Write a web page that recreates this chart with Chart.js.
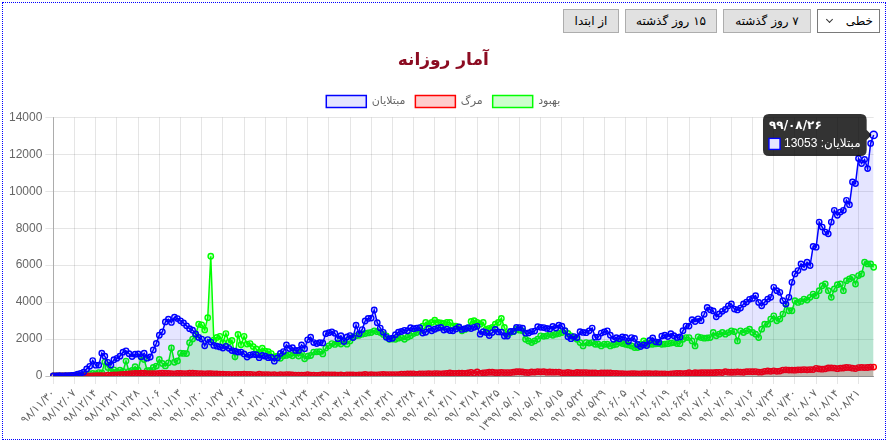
<!DOCTYPE html>
<html dir="rtl" lang="fa">
<head>
<meta charset="utf-8">
<script src="https://cdn.jsdelivr.net/npm/chart.js@4.4.1/dist/chart.umd.min.js"></script>
<style>
html,body{margin:0;padding:0;background:#fff;width:890px;height:444px;overflow:hidden;}
#wrap{position:absolute;left:2px;top:2px;width:882px;height:436px;border:1px dotted #0000ff;}
.btn,.sel{position:absolute;top:9px;height:24px;box-sizing:border-box;font-family:"DejaVu Sans",sans-serif;font-size:12px;color:#000;line-height:22px;text-align:center;white-space:nowrap;}
.btn{background:#e1e1e1;border:1px solid #adadad;}
.sel{background:#fff;border:1px solid #7a7a7a;text-align:right;padding-right:6px;}
.chev{position:absolute;left:9px;top:7px;width:4px;height:4px;border-right:1px solid #333;border-bottom:1px solid #333;transform:rotate(45deg);}
#c{position:absolute;left:3px;top:40px;}
</style>
</head>
<body>
<div id="wrap"></div>
<div class="sel" style="left:817px;width:63px">خطی<span class="chev"></span></div>
<div class="btn" style="left:723px;width:88px">۷ روز گذشته</div>
<div class="btn" style="left:625px;width:92px">۱۵ روز گذشته</div>
<div class="btn" style="left:563px;width:56px">از ابتدا</div>
<canvas id="c" width="883" height="400"></canvas>
<script>
// ---- data (daily values, first day 98/11/30, last day 99/08/26) ----
const startDate = [98, 11, 30];
const dayCount = 272;
const labelOverrides = {"99/05/01": "1399/05/01"};

const infected = [
2,3,13,10,15,18,34,44,106,143,
205,385,523,835,586,591,1234,1076,743,595,
881,958,1075,1289,1365,1209,1053,1178,1192,1046,
1237,966,1028,1411,1762,2206,2389,2926,3076,2901,
3186,3110,2987,2875,2715,2560,2483,2274,2089,1997,
1634,1972,1837,1657,1617,1574,1512,1606,1499,1374,
1343,1294,1297,1194,1030,1134,1168,1153,991,1112,
1073,993,1006,802,976,1223,1323,1680,1485,1529,
1383,1383,1683,1481,1958,2102,1808,1757,1806,1791,
2294,2346,2392,2311,2023,2180,1869,2111,2191,2080,
2750,2282,2516,2979,3117,3134,3574,2886,2596,2364,
2095,2011,2043,2238,2369,2410,2472,2449,2612,2563,
2596,2615,2322,2368,2573,2445,2531,2595,2628,2489,
2536,2457,2449,2549,2652,2523,2560,2613,2566,2637,
2691,2262,2397,2349,2186,2349,2521,2388,2379,2166,
2166,2414,2414,2625,2621,2586,2316,2333,2407,2434,
2667,2636,2621,2574,2548,2685,2598,2751,2697,2450,
2125,2020,2133,2079,2397,2359,2345,2444,2596,2100,
2105,2323,2385,2444,2206,1983,2074,2020,2115,2090,
1881,2080,2030,1712,1594,1682,1652,1922,2063,1851,
1831,2163,2205,2137,2292,2183,2089,2116,2451,2705,
2705,3049,2950,3097,2996,3341,3712,3582,3521,3204,
3362,3500,3600,3800,3900,3625,3575,3680,3900,4000,
4150,4200,4348,3985,3804,4000,4167,4257,4800,4620,
4530,4076,3895,4257,5072,5525,5706,6069,5888,6159,
5978,7011,6975,8333,8061,7790,7699,8333,8967,8696,
8877,8967,9511,9275,10507,10417,11775,11504,11721,11232,
12591,13053];

const deaths = [
2,0,2,1,3,4,4,3,7,8,
9,11,12,11,15,15,17,21,49,43,
54,63,75,85,97,113,129,135,147,149,
149,123,129,127,122,143,157,144,139,123,
117,141,138,124,134,158,151,136,133,121,
117,122,125,117,111,98,94,92,89,73,
87,91,88,94,90,93,76,60,96,71,
80,71,63,74,47,74,63,78,68,55,
48,51,45,48,71,50,48,35,51,69,
62,58,66,56,51,58,34,62,57,63,
50,63,57,81,64,70,59,63,75,81,
70,78,71,75,71,107,107,113,115,120,
87,115,119,119,121,119,133,134,109,125,
144,162,147,141,148,154,147,163,200,153,
221,142,174,188,203,203,179,179,195,183,
188,188,209,229,229,221,195,188,216,212,
235,226,235,206,216,208,212,215,174,174,
189,167,156,189,182,185,187,169,163,164,
147,168,165,164,162,137,142,126,124,113,
111,121,123,111,117,123,130,121,113,128,
116,111,117,99,113,125,144,137,121,147,
175,144,175,169,175,184,178,177,175,190,
199,187,235,207,203,209,222,211,203,235,
239,235,239,210,215,251,272,254,279,253,
269,322,337,322,322,317,335,335,346,337,
346,346,415,384,369,386,434,440,431,397,
426,434,459,457,423,400,457,462,457,459,
486,482];

const recovered = [
0,0,0,0,0,0,0,0,49,24,
50,52,116,144,117,187,174,756,465,260,
337,228,317,253,810,251,300,500,321,1035,
890,296,300,463,537,900,676,546,712,1520,
745,817,1238,1224,1213,1801,2000,2225,2803,2773,
2497,3156,6482,1947,2089,2146,1804,2296,1835,1923,
1036,2250,1692,2148,1730,1756,1594,1464,1276,1506,
1352,1312,1215,1032,1072,957,1096,1112,1157,1093,
1227,1079,1279,935,1071,1111,1297,1311,1317,1197,
1512,1635,1756,1712,1796,1729,1912,1724,1900,2100,
2174,2200,2264,2300,2330,2355,2445,2400,2355,2250,
2174,1990,2000,1990,2050,2083,1990,2100,2174,2300,
2355,2445,2700,2900,2808,2900,3025,2900,2870,2844,
2900,2900,2717,2700,2627,2445,2520,2600,2950,2990,
2900,2808,2900,2536,2580,2627,2808,2900,3116,2627,
2264,2355,2400,2536,2480,2445,1990,1900,1811,1900,
1990,2174,2150,2174,2264,2200,2264,2300,2355,2445,
2300,2174,2080,1990,1811,1630,1811,1780,1811,1720,
1720,1630,1720,1720,1630,1680,1720,1811,1760,1720,
1680,1630,1540,1540,1720,1900,1800,1720,1720,1740,
1750,1720,1730,1750,1780,1811,1760,1750,1990,2083,
2083,1900,1630,2120,2083,2050,2060,2083,2355,2174,
2264,2355,2264,2350,2445,2400,1900,2445,2355,2445,
2536,2355,2264,2083,2536,2808,2808,3080,3260,2990,
3080,3350,3895,3532,3532,4076,3985,4040,4167,4110,
4257,4438,4350,4620,4891,4982,4620,4257,4710,4945,
4982,4620,5163,5254,5344,4982,5435,5525,6159,6069,
6069,5888];

const yTicks = [0, 2000, 4000, 6000, 8000, 10000, 12000, 14000];
const seriesNames = ['مبتلایان', 'مرگ', 'بهبود'];
const chartTitle = 'آمار روزانه';
const activeIndex = 271;

// ---- helpers ----
const faDigits = '۰۱۲۳۴۵۶۷۸۹';
function toFa(s){ return String(s).replace(/[0-9]/g, d => faDigits[+d]); }
function monthLen(y, m){ if (m <= 6) return 31; if (m <= 11) return 30; return y === 98 ? 29 : 30; }
function pad(n){ return (n < 10 ? '0' : '') + n; }
function buildLabels(){
  let [y, m, d] = startDate;
  const out = [];
  for (let i = 0; i < dayCount; i++) {
    let s = pad(y) + '/' + pad(m) + '/' + pad(d);
    if (labelOverrides[s]) s = labelOverrides[s];
    out.push(toFa(s));
    d++;
    if (d > monthLen(y, m)) { d = 1; m++; if (m > 12) { m = 1; y++; } }
  }
  return out;
}
const labels = buildLabels();

Chart.defaults.font.family = '"Liberation Sans", "DejaVu Sans", sans-serif';
Chart.defaults.font.size = 12;
Chart.defaults.color = '#666';

function ds(label, data, stroke, fillCol){
  return {
    label, data, fill: 'origin',
    borderColor: stroke, backgroundColor: fillCol, borderWidth: 1.5,
    pointRadius: 2.7, pointBorderWidth: 1.4,
    pointBackgroundColor: fillCol, pointBorderColor: stroke,
    pointHoverRadius: 3.6, pointHoverBorderWidth: 1.6,
    pointHoverBackgroundColor: fillCol, pointHoverBorderColor: stroke,
    tension: 0
  };
}

const gridCol = 'rgba(0,0,0,0.1)';
const axisCol = 'rgba(0,0,0,0.25)';

const chart = new Chart(document.getElementById('c'), {
  type: 'line',
  data: {
    labels,
    datasets: [
      ds(seriesNames[0], infected, '#0000ff', 'rgba(0,0,255,0.1)'),
      ds(seriesNames[1], deaths, '#ff0000', 'rgba(255,0,0,0.2)'),
      ds(seriesNames[2], recovered, '#00ff00', 'rgba(0,255,0,0.2)')
    ]
  },
  options: {
    responsive: false, animation: false, devicePixelRatio: 1,
    layout: { padding: { left: 3, right: 5.5, top: 0, bottom: 2 } },
    interaction: { mode: 'nearest', intersect: true },
    plugins: {
      title: { display: true, text: chartTitle, color: '#8c0c22',
        font: { family: '"DejaVu Sans", sans-serif', size: 17, weight: 'bold' },
        padding: { top: 10, bottom: 15 } },
      legend: { labels: { boxWidth: 40, boxHeight: 12, color: '#666',
        font: { family: '"DejaVu Sans", sans-serif', size: 11 }, padding: 10 } },
      tooltip: {
        backgroundColor: 'rgba(0,0,0,0.8)',
        titleFont: { family: '"DejaVu Sans", sans-serif', size: 12, weight: 'bold', lineHeight: 1 },
        bodyFont: { family: '"Liberation Sans", "DejaVu Sans", sans-serif', size: 12, lineHeight: 1 },
        padding: 6, cornerRadius: 6, caretSize: 5, caretPadding: 2,
        titleMarginBottom: 6, boxWidth: 11, boxHeight: 11, boxPadding: 2,
        callbacks: {
          title: items => labels[items[0].dataIndex],
          label: item => item.dataset.label + ': ' + item.raw
        }
      }
    },
    scales: {
      x: {
        grid: { color: c => (c.index % 7 === 0 ? gridCol : 'rgba(0,0,0,0)'), tickLength: 8 },
        border: { color: axisCol },
        ticks: { autoSkip: false, minRotation: 45, maxRotation: 45, color: '#666',
          font: { family: '"DejaVu Sans", sans-serif', size: 11 },
          callback: function(v, i){ return i % 7 === 0 ? this.getLabelForValue(v) : ''; } }
      },
      y: {
        min: 0, max: 14000,
        afterBuildTicks: s => { s.ticks = yTicks.map(v => ({ value: v })); },
        grid: { color: c => (c.tick && c.tick.value === 0 ? axisCol : gridCol), tickLength: 8 },
        border: { color: axisCol },
        ticks: { color: '#666', font: { size: 12 }, callback: v => String(v) }
      }
    }
  }
});

const pt = chart.getDatasetMeta(0).data[activeIndex];
chart.setActiveElements([{ datasetIndex: 0, index: activeIndex }]);
chart.tooltip.setActiveElements([{ datasetIndex: 0, index: activeIndex }], { x: pt.x, y: pt.y });
chart.update();
</script>
</body>
</html>
